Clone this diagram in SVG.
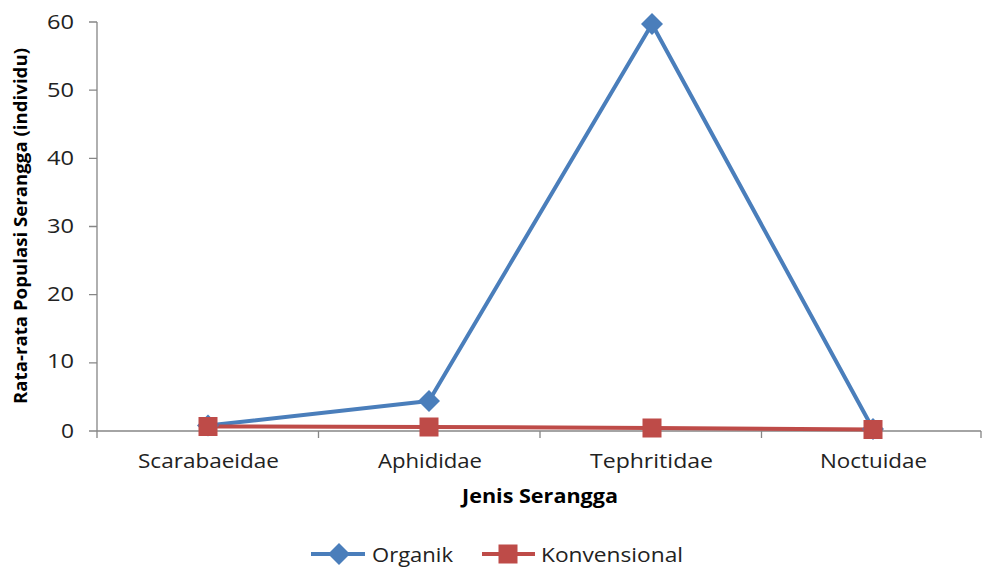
<svg xmlns="http://www.w3.org/2000/svg" width="982" height="568" viewBox="0 0 982 568">
<style>
.ax{stroke:#868686;stroke-width:1.3;fill:none}
.t{font-family:"Open Sans","Liberation Sans",sans-serif;font-size:20px;fill:#222}
.b{font-family:"Open Sans","Liberation Sans",sans-serif;font-weight:bold;fill:#000}
.org{stroke:#4A7EBB;stroke-width:4;fill:none;stroke-linejoin:round}
.kon{stroke:#BE4B48;stroke-width:4;fill:none}
</style>
<defs>
<path id="dia" d="M0,-11 L11,0 L0,11 L-11,0Z" fill="#4A7EBB"/>
<rect id="sq" x="-9.5" y="-9.5" width="19" height="19" fill="#BE4B48"/>
</defs>
<rect width="982" height="568" fill="#fff"/>
<g id="axes">
<path class="ax" d="M97,22V431M89,22H97M89,90.2H97M89,158.3H97M89,226.5H97M89,294.7H97M89,362.8H97M89,431H981M97,431V438M318.5,431V438M540,431V438M761.5,431V438M981,431V438"/>
<g class="t" text-anchor="end">
<text x="74" y="29" textLength="27" lengthAdjust="spacingAndGlyphs">60</text>
<text x="74" y="97" textLength="27" lengthAdjust="spacingAndGlyphs">50</text>
<text x="74" y="165" textLength="27" lengthAdjust="spacingAndGlyphs">40</text>
<text x="74" y="233" textLength="27" lengthAdjust="spacingAndGlyphs">30</text>
<text x="74" y="301" textLength="27" lengthAdjust="spacingAndGlyphs">20</text>
<text x="74" y="368" textLength="27" lengthAdjust="spacingAndGlyphs">10</text>
<text x="74" y="438" textLength="13" lengthAdjust="spacingAndGlyphs">0</text>
</g>
<g class="t">
<text x="138" y="468" textLength="141" lengthAdjust="spacingAndGlyphs">Scarabaeidae</text>
<text x="378" y="468" textLength="104" lengthAdjust="spacingAndGlyphs">Aphididae</text>
<text x="590" y="468" textLength="123" lengthAdjust="spacingAndGlyphs">Tephritidae</text>
<text x="820" y="468" textLength="107" lengthAdjust="spacingAndGlyphs">Noctuidae</text>
</g>
<text class="b" x="462" y="503" font-size="19" textLength="156" lengthAdjust="spacingAndGlyphs">Jenis Serangga</text>
<text class="b" transform="translate(27,404) rotate(-90)" font-size="17" textLength="356" lengthAdjust="spacingAndGlyphs">Rata-rata Populasi Serangga (individu)</text>
</g>
<g id="connectors">
<polyline class="org" points="208,425.5 429,401 652,24 873,429"/>
<polyline class="kon" points="208,426.5 429,427 652,428 873,429.5"/>
</g>
<g id="organik-points">
<use href="#dia" x="208" y="425.5"/>
<use href="#dia" x="429" y="401"/>
<use href="#dia" x="652" y="24"/>
<use href="#dia" x="873" y="429"/>
</g>
<g id="konvensional-points">
<use href="#sq" x="208" y="426.5"/>
<use href="#sq" x="429" y="427"/>
<use href="#sq" x="652" y="428"/>
<use href="#sq" x="873" y="429.5"/>
</g>
<g id="legend">
<line class="org" x1="311" y1="554" x2="365" y2="554"/>
<use href="#dia" x="339" y="554"/>
<text class="t" x="372" y="562" textLength="81" lengthAdjust="spacingAndGlyphs">Organik</text>
<line class="kon" x1="482" y1="554" x2="535" y2="554"/>
<use href="#sq" x="508" y="554"/>
<text class="t" x="541" y="562" textLength="142" lengthAdjust="spacingAndGlyphs">Konvensional</text>
</g>
</svg>
